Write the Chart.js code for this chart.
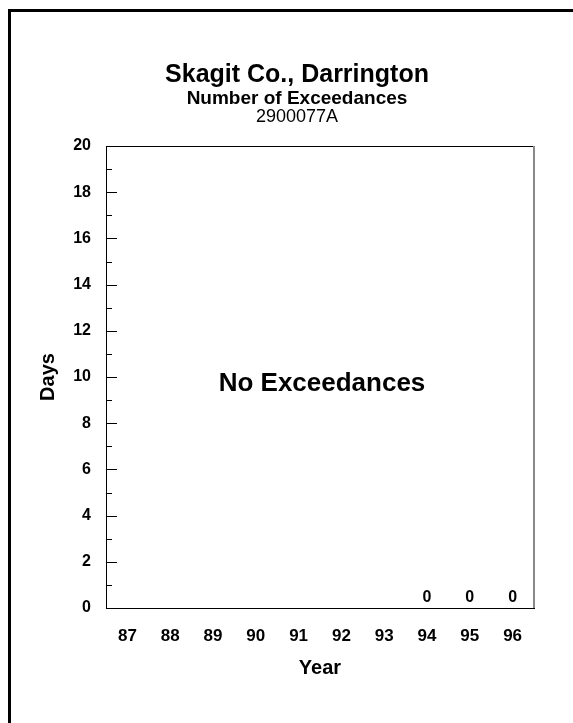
<!DOCTYPE html>
<html>
<head>
<meta charset="utf-8">
<title>Skagit Co., Darrington</title>
<script src="https://cdn.jsdelivr.net/npm/chart.js@4.4.1/dist/chart.umd.min.js"></script>
<style>
  html, body { margin: 0; padding: 0; background: #fff; overflow: hidden; }
  #wrap { position: relative; width: 573px; height: 723px; }
  #frame {
    position: absolute; left: 8px; top: 9px; width: 700px; height: 800px;
    border-left: 3px solid #000; border-top: 3px solid #000; pointer-events: none;
  }
  canvas { position: absolute; left: 0; top: 0; }
</style>
</head>
<body>
<div id="wrap">
  <canvas id="chartExceed" width="573" height="723"></canvas>
  <div id="frame"></div>
</div>
<script>
const FONT = "'Liberation Sans', Arial, Helvetica, sans-serif";

// data
const years = ["87", "88", "89", "90", "91", "92", "93", "94", "95", "96"];
const exceedDays = [null, null, null, null, null, null, null, 0, 0, 0];
const headerTitle = "Skagit Co., Darrington";
const headerSub = "Number of Exceedances";
const siteId = "2900077A";
const emptyNote = "No Exceedances";

// header lines + note in the middle of the plot
const textPlugin = {
  id: "textPlugin",
  afterDraw(chart) {
    const ctx = chart.ctx;
    const area = chart.chartArea;
    const cx = (chart.width + 21) / 2;
    ctx.save();
    ctx.fillStyle = "#000";
    ctx.textAlign = "center";
    ctx.textBaseline = "middle";
    ctx.font = "bold 25px " + FONT;
    ctx.fillText(headerTitle, cx, area.top - 71);
    ctx.font = "bold 19px " + FONT;
    ctx.fillText(headerSub, cx, area.top - 47);
    ctx.font = "18px " + FONT;
    ctx.fillText(siteId, cx, area.top - 29);

    ctx.font = "bold 26px " + FONT;
    ctx.fillText(emptyNote, (area.left + area.right) / 2 + 2, (area.top + area.bottom) / 2 + 7);

    // value labels on top of each bar
    ctx.font = "bold 16px " + FONT;
    ctx.textBaseline = "bottom";
    const meta = chart.getDatasetMeta(0);
    meta.data.forEach((bar, i) => {
      const v = exceedDays[i];
      if (v === null || v === undefined) return;
      ctx.fillText(String(v), bar.x, bar.y - 2);
    });
    ctx.restore();
  },
};

// inward tick marks on the y axis and the top/right frame
const framePlugin = {
  id: "framePlugin",
  afterDraw(chart) {
    const ctx = chart.ctx;
    const area = chart.chartArea;
    const y = chart.scales.y;
    ctx.save();
    ctx.strokeStyle = "#000";
    ctx.lineWidth = 1;
    const vals = y.ticks.map((t) => t.value);
    vals.forEach((v, i) => {
      const py = Math.round(y.getPixelForValue(v)) + 0.5;
      ctx.beginPath();
      ctx.moveTo(area.left, py);
      ctx.lineTo(area.left + 11, py);
      ctx.stroke();
      if (i < vals.length - 1) {
        const pm = Math.round(y.getPixelForValue((v + vals[i + 1]) / 2)) + 0.5;
        ctx.beginPath();
        ctx.moveTo(area.left, pm);
        ctx.lineTo(area.left + 6, pm);
        ctx.stroke();
      }
    });
    ctx.beginPath();
    ctx.moveTo(area.left, Math.round(area.top) + 0.5);
    ctx.lineTo(area.right, Math.round(area.top) + 0.5);
    ctx.stroke();
    ctx.strokeStyle = "#888";
    ctx.lineWidth = 2;
    ctx.beginPath();
    ctx.moveTo(Math.round(area.right), area.top);
    ctx.lineTo(Math.round(area.right), area.bottom);
    ctx.stroke();
    ctx.restore();
  },
};

const bgPlugin = {
  id: "bgPlugin",
  beforeDraw(chart) {
    const ctx = chart.ctx;
    ctx.save();
    ctx.fillStyle = "#fff";
    ctx.fillRect(0, 0, chart.width, chart.height);
    ctx.restore();
  },
};

new Chart(document.getElementById("chartExceed").getContext("2d"), {
  type: "bar",
  data: {
    labels: years,
    datasets: [
      {
        label: "Days",
        data: exceedDays,
        backgroundColor: "#000",
        borderWidth: 0,
      },
    ],
  },
  options: {
    responsive: false,
    animation: false,
    layout: { padding: { left: 0, top: 146, right: 39, bottom: 35 } },
    plugins: {
      legend: { display: false },
      tooltip: { enabled: false },
    },
    scales: {
      x: {
        afterFit: (s) => { s.height = 80; },
        grid: { display: false, drawTicks: false },
        border: { display: true, color: "#000", width: 1 },
        ticks: {
          color: "#000",
          padding: 18,
          font: { family: FONT, size: 17, weight: "bold" },
        },
        title: {
          display: true,
          text: "Year",
          color: "#000",
          padding: { top: 0, bottom: 8 },
          font: { family: FONT, size: 20, weight: "bold" },
        },
      },
      y: {
        min: 0,
        max: 20,
        afterFit: (s) => { s.width = 106; },
        grid: { display: false, drawTicks: false },
        border: { display: true, color: "#000", width: 1 },
        ticks: {
          stepSize: 2,
          color: "#000",
          padding: 15,
          font: { family: FONT, size: 16, weight: "bold" },
        },
        title: {
          display: true,
          text: "Days",
          color: "#000",
          padding: { top: 36, bottom: 0 },
          font: { family: FONT, size: 20, weight: "bold" },
        },
      },
    },
  },
  plugins: [bgPlugin, framePlugin, textPlugin],
});
</script>
</body>
</html>
